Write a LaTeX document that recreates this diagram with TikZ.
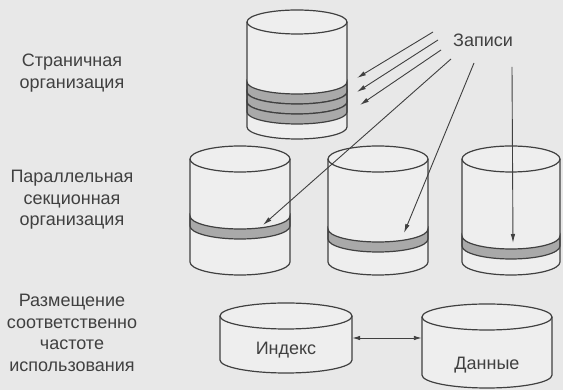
\documentclass[tikz,border=0pt]{standalone}
\usepackage{fontspec}
\setmainfont{Liberation Sans}
\usepackage{xcolor}
\usepackage{tikz}
\usetikzlibrary{arrows.meta,positioning,calc}
\definecolor{paper}{HTML}{E8E8E8}
\definecolor{drumgray}{HTML}{EEEEEE}
\definecolor{bandgray}{HTML}{A9A9A9}
\definecolor{inkgray}{HTML}{404040}
\tikzset{
  drumline/.style={draw=inkgray,line width=1.2pt},
  bandfill/.style={fill=bandgray,draw=inkgray,line width=1.2pt},
  rowlabel/.style={align=center,text=inkgray,font=\fontsize{18}{21.5}\selectfont},
  tag/.style={text=inkgray,font=\fontsize{18}{21.5}\selectfont,inner sep=2pt},
  recarrow/.style={-{Latex[length=9pt,width=4.5pt]},draw=inkgray,line width=0.9pt},
  linkarrow/.style={{Latex[length=8pt,width=4.5pt]}-{Latex[length=8pt,width=4.5pt]},
    draw=inkgray,line width=0.9pt}
}
% body of a drum: name, centre x, top y, bottom y, half width, rim radius
\newcommand{\drum}[6]{%
  \fill[drumgray] (#2-#5,#3) -- (#2-#5,#4)
    arc[start angle=180,end angle=360,x radius=#5,y radius=#6]
    -- (#2+#5,#3) arc[start angle=0,end angle=180,x radius=#5,y radius=#6] -- cycle;
  \node[inner sep=0pt,minimum width=2*#5pt,minimum height=#3pt-#4pt]
    (#1) at (#2,{(#3+#4)/2}) {};
}
% outline of a drum: centre x, top y, bottom y, half width, rim radius
\newcommand{\drumrim}[5]{%
  \draw[drumline] (#1,#2) ellipse[x radius=#4,y radius=#5];
  \draw[drumline] (#1-#4,#2) -- (#1-#4,#3)
    arc[start angle=180,end angle=360,x radius=#4,y radius=#5] -- (#1+#4,#2);
}
% shaded ring: centre x, half width, rim radius, upper y, lower y
\newcommand{\drumband}[5]{%
  \filldraw[bandfill] (#1-#2,#4)
    arc[start angle=180,end angle=360,x radius=#2,y radius=#3]
    -- (#1+#2,#5) arc[start angle=0,end angle=-180,x radius=#2,y radius=#3] -- cycle;
}

\begin{document}
\begin{tikzpicture}[x=1pt,y=1pt]
\fill[paper] (0,0) rectangle (563,390);
\useasboundingbox (0,0) rectangle (563,390);

% row labels
\node[rowlabel] (pagelbl) at (72,317) {Страничная\\организация};
\node[rowlabel] (seclbl) at (72,190) {Параллельная\\секционная\\организация};
\node[rowlabel] (freqlbl) at (72,57) {Размещение\\соответственно\\частоте\\использования};

% page organisation
\drum{page}{297}{368}{263}{50}{12}
\foreach \a in {308,298,288} {\drumband{297}{50}{12}{\a}{\a-10}}
\drumrim{297}{368}{263}{50}{12}

% parallel sections
\drum{secA}{240}{231}{128}{50}{13}
\drumband{240}{50}{13}{174}{164}
\drumrim{240}{231}{128}{50}{13}
\drum{secB}{378}{231}{128}{50}{13}
\drumband{378}{50}{13}{161}{151}
\drumrim{378}{231}{128}{50}{13}
\drum{secC}{511}{231}{128}{49}{13}
\drumband{511}{49}{13}{154}{144}
\drumrim{511}{231}{128}{49}{13}

% index and data
\drum{idx}{286}{74}{30}{66}{13}
\drumrim{286}{74}{30}{66}{13}
\drum{dat}{487}{73}{15}{65}{13}
\drumrim{487}{73}{15}{65}{13}
\node[tag] (idxtxt) at ([yshift=-12pt]idx.center) {Индекс};
\node[tag] (dattxt) at ([yshift=-19pt]dat.center) {Данные};

\node[tag] (rec) at (483,350) {Записи};

% arrow ends on the shaded rings
\coordinate (pg1) at (357,312);
\coordinate (pg2) at (357,298);
\coordinate (pg3) at (360,285);
\coordinate (sa) at (263,165);
\coordinate (sb) at (404,157);
\coordinate (sc) at (513,147);

\draw[recarrow] ([shift={(-50,8)}]rec.center) -- (pg1);
\draw[recarrow] ([shift={(-45,0)}]rec.center) -- (pg2);
\draw[recarrow] ([shift={(-42,-10)}]rec.center) -- (pg3);
\draw[recarrow] ([shift={(-32,-19)}]rec.center) -- (sa);
\draw[recarrow] ([shift={(-9,-23)}]rec.center) -- (sb);
\draw[recarrow] ([shift={(29,-27)}]rec.center) -- (sc);
\draw[linkarrow] (idx.east) -- (dat.west |- idx.east);
\end{tikzpicture}
\end{document}
